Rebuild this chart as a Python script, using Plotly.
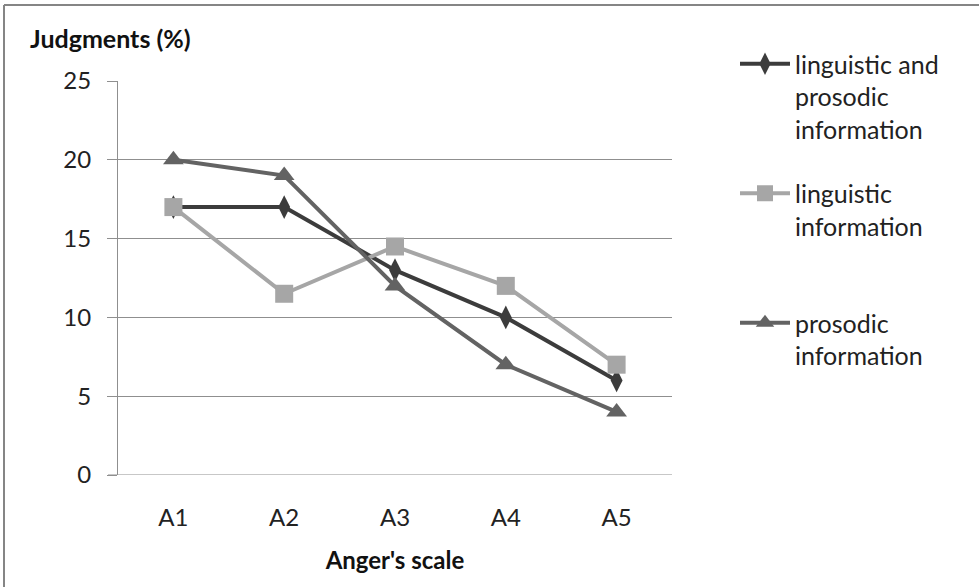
import plotly.graph_objects as go

categories = ["A1", "A2", "A3", "A4", "A5"]
ling_pros = [17, 17, 13, 10, 6]
ling = [17, 11.5, 14.5, 12, 7]
pros = [20, 19, 12, 7, 4]
y_ticks = [0, 5, 10, 15, 20, 25]

FONT = "Lato"
W, H = 979, 587
L, R, T, B = 118, 307, 81, 112
PW, PH = W - L - R, H - T - B

def px_x(p):
    return (p - L) / PW

def px_y(p):
    return 1 - (p - T) / PH

PAD = "<br><span style='color:rgba(255,255,255,0)'>.</span>"

fig = go.Figure()
fig.add_trace(go.Scatter(
    x=categories, y=ling_pros, mode="lines+markers",
    name="linguistic and<br>prosodic<br>information", legendgroup="a",
    line=dict(color="#3c3c3c", width=4),
    marker=dict(symbol="diamond-tall", size=17, color="#3c3c3c")))
fig.add_trace(go.Scatter(
    x=categories, y=ling, mode="lines+markers",
    name="linguistic<br>information" + PAD, legendgroup="b",
    line=dict(color="#a6a6a6", width=4),
    marker=dict(symbol="square", size=18, color="#a6a6a6")))
fig.add_trace(go.Scatter(
    x=categories, y=pros, mode="lines+markers",
    name="prosodic<br>information", legendgroup="c",
    line=dict(color="#636363", width=4),
    marker=dict(symbol="triangle-up", size=18, color="#636363")))

fig.update_layout(
    width=W, height=H,
    margin=dict(l=L, r=R, t=T, b=B),
    paper_bgcolor="white", plot_bgcolor="white",
    font=dict(family=FONT, size=24, color="#222222"),
    showlegend=True,
    legend=dict(x=px_x(735), xanchor="left", y=px_y(41), yanchor="top",
                valign="top", tracegroupgap=29, itemwidth=50,
                maxheight=560,
                font=dict(family=FONT, size=25, color="#222222"),
                bgcolor="rgba(0,0,0,0)"),
    xaxis=dict(type="category", range=[-0.5, 4.5], showgrid=False,
               showline=False, ticks="", zeroline=False,
               tickfont=dict(family=FONT, size=24, color="#222222"),
               ticklabelstandoff=26,
               title=dict(text="<b>Anger's scale</b>", standoff=22,
                          font=dict(family=FONT, size=24, color="#111111"))),
    yaxis=dict(range=[0, 25], tickvals=y_ticks, showgrid=True,
               gridcolor="#8f8f8f", gridwidth=1, zeroline=False,
               showline=True, linecolor="#8f8f8f", linewidth=1,
               ticks="outside", ticklen=10, tickcolor="#8f8f8f",
               tickfont=dict(family=FONT, size=24, color="#222222"),
               ticklabelstandoff=11),
)

# x-axis baseline extending left like the y tick marks
fig.add_shape(type="line", xref="paper", yref="y", x0=px_x(108), x1=1,
              y0=0, y1=0, line=dict(color="#8f8f8f", width=1))

# y-axis title at top-left
fig.add_annotation(text="<b>Judgments (%)</b>", xref="paper", yref="paper",
                   x=px_x(28), y=px_y(38), xanchor="left", yanchor="middle",
                   showarrow=False,
                   font=dict(family=FONT, size=25, color="#111111"))

# chart frame (top and left edges visible)
fig.add_shape(type="line", xref="paper", yref="paper",
              x0=px_x(4), x1=px_x(990), y0=px_y(5), y1=px_y(5),
              line=dict(color="#858585", width=2))
fig.add_shape(type="line", xref="paper", yref="paper",
              x0=px_x(4), x1=px_x(4), y0=px_y(5), y1=px_y(600),
              line=dict(color="#858585", width=2))

fig.write_html("out.html")
